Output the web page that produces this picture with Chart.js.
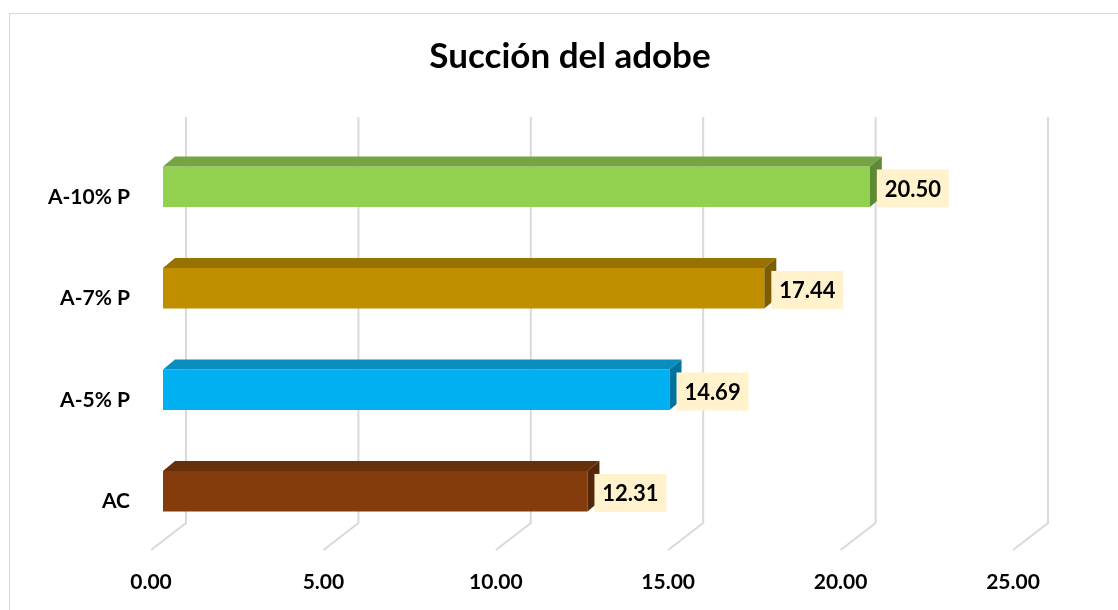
<!DOCTYPE html>
<html lang="es">
<head>
  <meta charset="UTF-8">
  <title>Succión del adobe</title>
  <script src="https://cdn.jsdelivr.net/npm/chart.js"></script>
  <style>
    html, body { margin: 0; padding: 0; background: #fff; overflow: hidden; }
    #wrap { position: relative; width: 1118px; height: 610px; }
    #frame { position: absolute; left: 9px; top: 13px; width: 1200px; height: 700px; border: 1px solid #d9d9d9; }
    canvas { position: absolute; left: 0; top: 0; }
  </style>
</head>
<body>
  <div id="wrap">
    <div id="frame"></div>
    <canvas id="chart" width="1118" height="610"></canvas>
  </div>

  <script>
    // data (top to bottom)
    const categories = ['A-10% P', 'A-7% P', 'A-5% P', 'AC'];
    const succion = [20.50, 17.44, 14.69, 12.31];
    const xTicks = [0, 5, 10, 15, 20, 25];

    const frontColors = ['#92d050', '#bf8f00', '#00b0f0', '#843c0c'];
    const topColors = ['#74a443', '#977200', '#0a8dbf', '#66300b'];
    const sideColors = ['#5e8a33', '#7d5d00', '#00729e', '#54270a'];

    const FONT = 'Lato, "Open Sans", sans-serif';
    const DEPTH_X = 12, DEPTH_Y = 10;

    // back wall gridlines + floor lines, then the 3D faces and value boxes
    const bar3d = {
      id: 'bar3d',
      afterLayout(chart) {
        // centre the title on the whole frame, not just the plot
        if (chart.titleBlock) {
          chart.titleBlock.left = 22;
          chart.titleBlock.right = chart.width;
        }
      },
      beforeDatasetsDraw(chart) {
        const ctx = chart.ctx, xs = chart.scales.x, area = chart.chartArea;
        ctx.save();
        ctx.strokeStyle = '#d9d9d9';
        ctx.lineWidth = 2;
        xTicks.forEach(v => {
          const px = xs.getPixelForValue(v);
          ctx.beginPath();
          ctx.moveTo(px + 23, area.top - 19);
          ctx.lineTo(px + 23, area.bottom - 19);
          ctx.lineTo(px - 12, area.bottom + 8);
          ctx.stroke();
        });
        ctx.restore();
      },
      afterDatasetsDraw(chart) {
        const ctx = chart.ctx;
        const meta = chart.getDatasetMeta(0);
        ctx.save();
        meta.data.forEach((bar, i) => {
          const h = bar.height, top = bar.y - h / 2, bot = bar.y + h / 2;
          // top face
          ctx.fillStyle = topColors[i];
          ctx.beginPath();
          ctx.moveTo(bar.base, top);
          ctx.lineTo(bar.base + DEPTH_X, top - DEPTH_Y);
          ctx.lineTo(bar.x + DEPTH_X, top - DEPTH_Y);
          ctx.lineTo(bar.x, top);
          ctx.closePath();
          ctx.fill();
          // side face
          ctx.fillStyle = sideColors[i];
          ctx.beginPath();
          ctx.moveTo(bar.x, top);
          ctx.lineTo(bar.x + DEPTH_X, top - DEPTH_Y);
          ctx.lineTo(bar.x + DEPTH_X, bot - DEPTH_Y);
          ctx.lineTo(bar.x, bot);
          ctx.closePath();
          ctx.fill();
          // value label box
          const bx = bar.x + 7, bw = 72, bh = 38, by = top + 3;
          ctx.fillStyle = '#fff2cc';
          ctx.fillRect(bx, by, bw, bh);
          ctx.fillStyle = '#000';
          ctx.font = 'bold 22px ' + FONT;
          ctx.textAlign = 'center';
          ctx.textBaseline = 'middle';
          ctx.fillText(succion[i].toFixed(2), bx + bw / 2, by + bh / 2 + 1);
        });
        ctx.restore();
      }
    };

    new Chart(document.getElementById('chart'), {
      type: 'bar',
      data: {
        labels: categories,
        datasets: [{
          data: succion,
          backgroundColor: frontColors,
          barPercentage: 0.4,
          categoryPercentage: 1
        }]
      },
      options: {
        indexAxis: 'y',
        responsive: false,
        animation: false,
        layout: { padding: { left: 0, right: 93, top: 0, bottom: 0 } },
        plugins: {
          legend: { display: false },
          tooltip: { enabled: false },
          title: {
            display: true,
            text: 'Succión del adobe',
            color: '#000',
            font: { family: FONT, size: 35, weight: 'bold' },
            padding: { top: 36, bottom: 58 }
          }
        },
        scales: {
          x: {
            min: 0,
            max: 25,
            afterBuildTicks(scale) { scale.ticks = xTicks.map(v => ({ value: v })); },
            afterFit(scale) { scale.height = 68; },
            grid: { display: false, drawTicks: false },
            border: { display: false },
            ticks: {
              color: '#000',
              font: { family: FONT, size: 21, weight: 'bold' },
              padding: 28,
              labelOffset: -12,
              callback: v => Number(v).toFixed(2)
            }
          },
          y: {
            afterFit(scale) { scale.width = 163; },
            grid: { display: false, drawTicks: false },
            border: { display: false },
            ticks: {
              color: '#000',
              font: { family: FONT, size: 21, weight: 'bold' },
              padding: 33,
              labelOffset: 10
            }
          }
        }
      },
      plugins: [bar3d]
    });
  </script>
</body>
</html>
